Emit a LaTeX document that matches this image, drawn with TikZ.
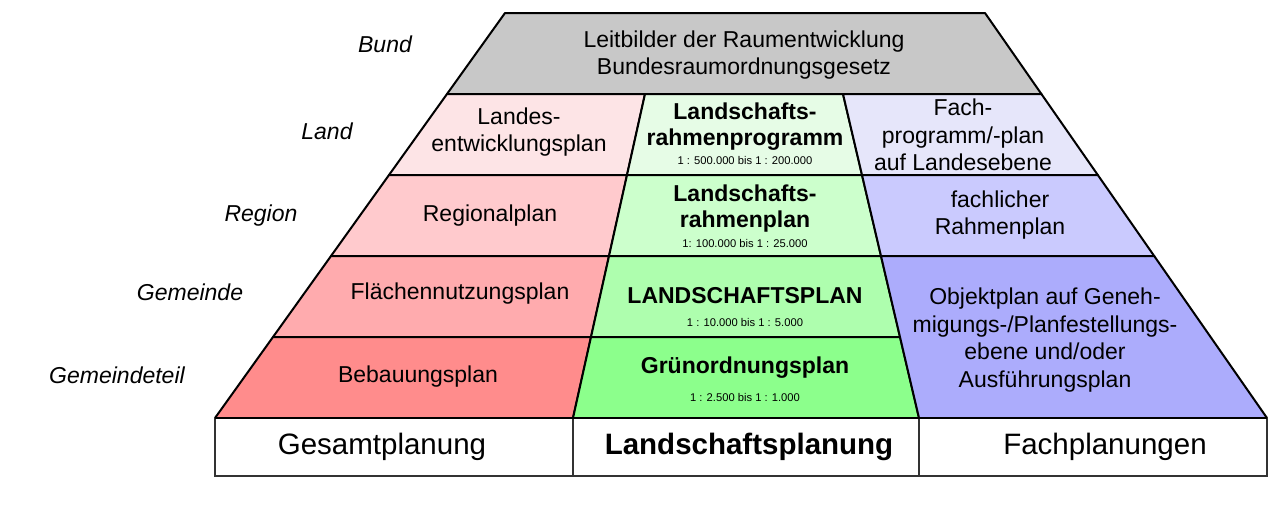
\documentclass[tikz,border=0pt]{standalone}
\usepackage{fontspec}
\setmainfont{Liberation Sans}
\definecolor{grayc}{HTML}{C8C8C8}
\definecolor{pinkA}{HTML}{FDE4E6}
\definecolor{pinkB}{HTML}{FFCACD}
\definecolor{pinkC}{HTML}{FFABAE}
\definecolor{pinkD}{HTML}{FF8C8C}
\definecolor{greenA}{HTML}{E6FCE6}
\definecolor{greenB}{HTML}{CCFFCC}
\definecolor{greenC}{HTML}{AEFEAE}
\definecolor{greenD}{HTML}{8CFF8C}
\definecolor{blueA}{HTML}{E6E6FA}
\definecolor{blueB}{HTML}{CACAFE}
\definecolor{blueC}{HTML}{ACACFC}
\begin{document}
\begin{tikzpicture}[x=1pt,y=-1pt,
  cell/.style={draw=black,line width=2pt,line join=round},
  boxcell/.style={draw=black!80,line width=1.3pt,fill=white},
  txt/.style={inner sep=0pt,align=center,font=\fontsize{23}{27.3}\selectfont},
  btxt/.style={inner sep=0pt,align=center,font=\fontsize{23}{26}\selectfont\bfseries},
  scaletxt/.style={inner sep=0pt,font=\fontsize{11.2}{13}\selectfont},
  lvl/.style={inner sep=0pt,font=\fontsize{23}{27}\selectfont\itshape},
  bottxt/.style={inner sep=0pt,font=\fontsize{29.5}{34}\selectfont}]
\useasboundingbox (0,0) rectangle (1280,504);
% top
\filldraw[cell,fill=grayc] (505,13) -- (985,13) -- (1041.4,94) -- (447,94) -- cycle;
% Land row
\filldraw[cell,fill=pinkA] (447,94) -- (645,94) -- (627,175) -- (389,175) -- cycle;
\filldraw[cell,fill=greenA] (645,94) -- (843,94) -- (862,175) -- (627,175) -- cycle;
\filldraw[cell,fill=blueA] (843,94) -- (1041.4,94) -- (1097.8,175) -- (862,175) -- cycle;
% Region row
\filldraw[cell,fill=pinkB] (389,175) -- (627,175) -- (609,256) -- (331,256) -- cycle;
\filldraw[cell,fill=greenB] (627,175) -- (862,175) -- (881,256) -- (609,256) -- cycle;
\filldraw[cell,fill=blueB] (862,175) -- (1097.8,175) -- (1154.2,256) -- (881,256) -- cycle;
% Gemeinde row
\filldraw[cell,fill=pinkC] (331,256) -- (609,256) -- (591,337) -- (273,337) -- cycle;
\filldraw[cell,fill=greenC] (609,256) -- (881,256) -- (900,337) -- (591,337) -- cycle;
% Gemeindeteil row
\filldraw[cell,fill=pinkD] (273,337) -- (591,337) -- (573,418) -- (215,418) -- cycle;
\filldraw[cell,fill=greenD] (591,337) -- (900,337) -- (919,418) -- (573,418) -- cycle;
% merged blue
\filldraw[cell,fill=blueC] (881,256) -- (1154.2,256) -- (1267,418) -- (919,418) -- cycle;
% bottom boxes
\draw[boxcell] (215,418) rectangle (573,476);
\draw[boxcell] (573,418) rectangle (919,476);
\draw[boxcell] (919,418) rectangle (1267,476);
\draw[line width=2pt] (215,418) -- (1267,418);
% texts
\node[txt] (bund) at (744,55) {Leitbilder der Raumentwicklung\\Bundesraumordnungsgesetz};
\node[txt] (lep) at (519,132) {Landes-\\entwicklungsplan};
\node[btxt] (lrp) at (745,127) {Landschafts-\\rahmenprogramm};
\node[scaletxt] (lrps) at (745,160) {1 : 500.000 bis 1 : 200.000};
\node[txt] (fach) at (963,135) {Fach-\\programm/-plan\\auf Landesebene};
\node[txt] (reg) at (490,216) {Regionalplan};
\node[btxt] (lrpl) at (745,209) {Landschafts-\\rahmenplan};
\node[scaletxt] (lrpls) at (745,243) {1: 100.000 bis 1 : 25.000};
\node[txt] (frp) at (1000,215) {fachlicher\\Rahmenplan};
\node[txt] (fnp) at (460,294) {Flächennutzungsplan};
\node[btxt] (lp) at (745,296) {LANDSCHAFTSPLAN};
\node[scaletxt] (lps) at (745,322) {1 : 10.000 bis 1 : 5.000};
\node[txt,font=\fontsize{23}{27.7}\selectfont] (obj) at (1045,340) {Objektplan auf Geneh-\\migungs-/Planfestellungs-\\ebene und/oder\\Ausführungsplan};
\node[txt] (bbp) at (418,377) {Bebauungsplan};
\node[btxt] (gop) at (745,368) {Grünordnungsplan};
\node[scaletxt] (gops) at (745,397) {1 : 2.500 bis 1 : 1.000};
\node[bottxt] (ges) at (382,447) {Gesamtplanung};
\node[bottxt,font=\fontsize{29.5}{34}\selectfont\bfseries] (lsp) at (749,447) {Landschaftsplanung};
\node[bottxt] (fp) at (1105,447) {Fachplanungen};
% levels
\node[lvl] (l1) at (385,44) {Bund};
\node[lvl] (l2) at (327,131) {Land};
\node[lvl] (l3) at (261,216) {Region};
\node[lvl] (l4) at (190,292) {Gemeinde};
\node[lvl] (l5) at (117,375) {Gemeindeteil};
\end{tikzpicture}
\end{document}
